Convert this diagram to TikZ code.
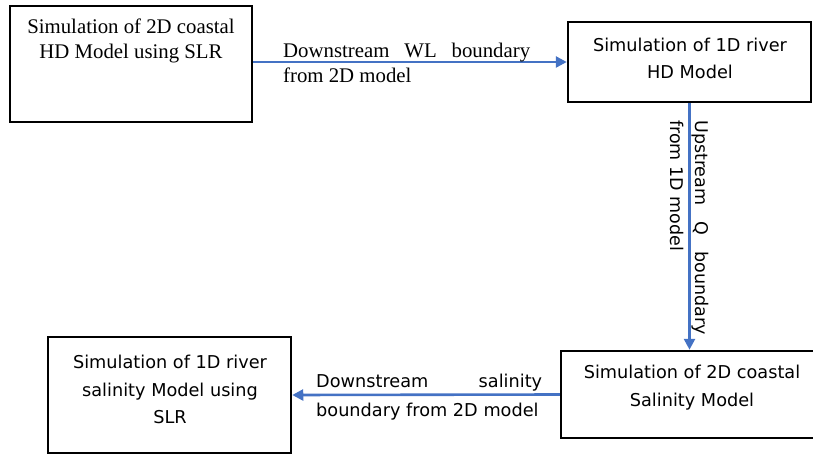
\documentclass[tikz,border=0pt]{standalone}
\usepackage{fontspec}
\setmainfont{Liberation Serif}
\newfontfamily\sansf{DejaVu Sans}
\usetikzlibrary{arrows.meta}
\definecolor{arrowblue}{HTML}{4472C4}
\tikzset{
  box/.style={draw=black, line width=2.5pt, fill=none, inner sep=0pt},
  serift/.style={font=\fontsize{20.8}{25}\selectfont, inner sep=0pt, align=center},
  sanst/.style={font=\sansf\fontsize{17.7}{27.5}\selectfont, inner sep=0pt, align=center},
  flow/.style={draw=arrowblue, line width=2.6pt, -{Triangle[length=11pt,width=11pt]}},
  lbl/.style={inner sep=0pt, align=left}
}
\begin{document}
\begin{tikzpicture}[x=1pt,y=-1pt]
\useasboundingbox (0,0) rectangle (813,454);
% boxes
\node[box, minimum width=242pt, minimum height=116pt] (b1) at (131,64) {};
\node[box, minimum width=243pt, minimum height=80pt] (b2) at (689.5,62) {};
\node[box, minimum width=260pt, minimum height=87pt] (b3) at (691,394.5) {};
\node[box, minimum width=243pt, minimum height=116pt] (b4) at (169.5,395) {};
% box texts
\node[serift] (t1) at (131,41) {Simulation of 2D coastal\\HD Model using SLR};
\node[sanst] (t2) at (690,58.5) {Simulation of 1D river\\HD Model};
\node[sanst] (t3) at (692,387.5) {Simulation of 2D coastal\\Salinity Model};
\node[sanst] (t4) at (170,389.5) {Simulation of 1D river\\salinity Model using\\SLR};
% connectors
\draw[flow] (b1.east |- b2.west) -- (b2.west);
\draw[flow] (b2.south) -- (b2.south |- b3.north);
\draw[flow] (b3.west) -- (b4.east);
% connector labels
\node[lbl, font=\fontsize{20.8}{25}\selectfont, anchor=west] (l1) at (283,62.5)
  {\hbox to 247pt{Downstream\hfill WL\hfill boundary}\\from 2D model};
\node[lbl, font=\sansf\fontsize{17.5}{25}\selectfont, rotate=-90, anchor=west] (l2) at (689.5,120)
  {\hbox to 215pt{Upstream\hfill Q\hfill boundary}\\from 1D model};
\node[lbl, font=\sansf\fontsize{17.7}{29}\selectfont, anchor=west] (l3) at (316,397.5)
  {\hbox to 226pt{Downstream\hfill salinity}\\boundary from 2D model};
\end{tikzpicture}
\end{document}
